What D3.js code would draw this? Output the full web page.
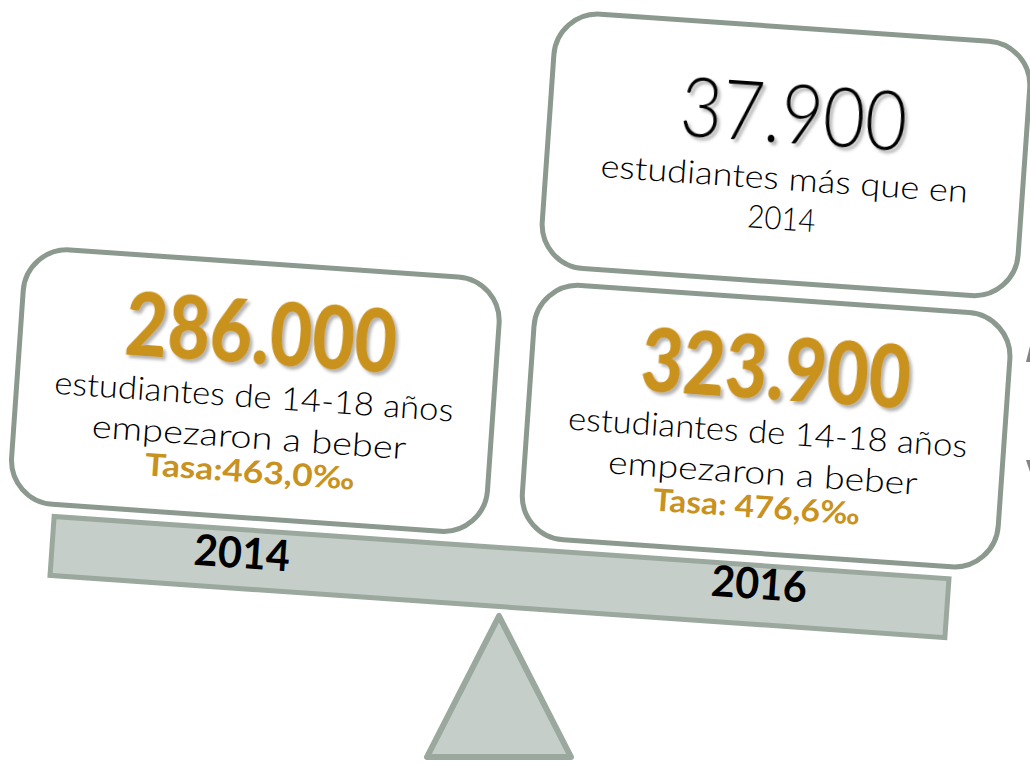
<!DOCTYPE html>
<html>
<head>
<meta charset="utf-8">
<script src="https://cdn.jsdelivr.net/npm/d3@7"></script>
<style>
  body { margin: 0; background: #fff; }
  svg { display: block; }
</style>
</head>
<body>
<svg id="chart" width="1030" height="765"></svg>
<script>
// data
const years = ['2014', '2016'];
const students = [286000, 323900];
const rates = [463.0, 476.6];
const rateLabels = ['Tasa:', 'Tasa: '];
const descLines = ['estudiantes de 14-18 años', 'empezaron a beber'];
const diffLines = ['estudiantes más que en', years[0]];

const es = d3.formatLocale({decimal: ',', thousands: '.', grouping: [3], currency: ['', ' €']});
const fmtInt = es.format(',');
const fmtRate = es.format('.1f');

const gold = '#c9921f';
const frame = '#8b998e';
const beamFill = '#c5cec8';
const beamLine = '#9aa89e';
const font = 'Lato, "Open Sans", sans-serif';

const svg = d3.select('#chart');

svg.append('defs')
    .append('filter')
    .attr('id', 'shadow')
    .attr('x', '-10%').attr('y', '-10%')
    .attr('width', '130%').attr('height', '140%')
    .append('feDropShadow')
    .attr('dx', 3).attr('dy', 3)
    .attr('stdDeviation', 1.6)
    .attr('flood-color', '#444')
    .attr('flood-opacity', 0.4);

// the seesaw tilts with the difference between both years
const diff = students[1] - students[0];
const tilt = d3.scaleLinear().domain([0, 40000]).range([0, 4.2]);
const angle = tilt(diff);

const pivot = {x: 499, y: 577};
const boxW = 477, boxH = 255;

// horizontal place of each year along the beam (beam-local coords)
const xYear = d3.scalePoint().domain(years).range([-256, 256]);

// fulcrum
svg.append('path')
    .attr('d', d3.line()([[499, 616], [427, 757], [571, 757]]) + 'Z')
    .attr('fill', beamFill)
    .attr('stroke', beamLine)
    .attr('stroke-width', 6)
    .attr('stroke-linejoin', 'round');

const seesaw = svg.append('g')
    .attr('transform', `translate(${pivot.x},${pivot.y}) rotate(${angle})`);

// beam
seesaw.append('rect')
    .attr('x', -448).attr('y', -29.5)
    .attr('width', 897).attr('height', 59)
    .attr('fill', beamFill)
    .attr('stroke', beamLine)
    .attr('stroke-width', 5);

seesaw.selectAll('text.year')
    .data(years)
    .enter()
    .append('text')
    .attr('class', 'year')
    .attr('x', d => xYear(d) + (d === years[0] ? -2 : 4))
    .attr('y', (d, i) => i === 0 ? 9 : 4)
    .attr('text-anchor', 'middle')
    .attr('textLength', 96)
    .attr('lengthAdjust', 'spacingAndGlyphs')
    .style('font-family', font)
    .style('font-weight', 'bold')
    .style('font-size', '43px')
    .attr('fill', '#000')
    .text(d => d);

// year boxes resting on the beam
const box = seesaw.selectAll('g.box')
    .data(years)
    .enter()
    .append('g')
    .attr('class', 'box')
    .attr('transform', d => `translate(${xYear(d)},-169)`);

box.append('rect')
    .attr('x', -boxW / 2).attr('y', -boxH / 2)
    .attr('width', boxW).attr('height', boxH)
    .attr('rx', 44).attr('ry', 44)
    .attr('fill', '#fff')
    .attr('stroke', frame)
    .attr('stroke-width', 5);

const numW = [272, 270];
box.append('text')
    .attr('x', (d, i) => i === 0 ? 2 : 6)
    .attr('y', -27)
    .attr('text-anchor', 'middle')
    .attr('textLength', (d, i) => numW[i])
    .attr('lengthAdjust', 'spacingAndGlyphs')
    .attr('filter', 'url(#shadow)')
    .style('font-family', font)
    .style('font-weight', 900)
    .style('font-size', '88px')
    .attr('fill', gold)
    .text((d, i) => fmtInt(students[i]));

const lineW = [[400, 315], [400, 310]];
descLines.forEach((line, j) => {
    box.append('text')
        .attr('x', (d, i) => i === 0 ? (j ? -3 : -1) : (j ? 0 : 2))
        .attr('y', j === 0 ? 17 : 58)
        .attr('text-anchor', 'middle')
        .attr('textLength', (d, i) => lineW[i][j])
        .attr('lengthAdjust', 'spacingAndGlyphs')
        .style('font-family', font)
        .style('font-weight', 300)
        .style('font-size', '32px')
        .attr('fill', '#000')
        .text(line);
});

const rateW = [210, 207];
box.append('text')
    .attr('x', (d, i) => i === 0 ? 0 : -4)
    .attr('y', 92)
    .attr('text-anchor', 'middle')
    .attr('textLength', (d, i) => rateW[i])
    .attr('lengthAdjust', 'spacingAndGlyphs')
    .style('font-family', font)
    .style('font-weight', 'bold')
    .style('font-size', '31px')
    .attr('fill', gold)
    .text((d, i) => rateLabels[i] + fmtRate(rates[i]) + '‰');

// difference box stacked on the heavier side
const diffBox = seesaw.append('g')
    .attr('transform', `translate(${xYear(years[1]) + 1},-441)`);

diffBox.append('rect')
    .attr('x', -boxW / 2).attr('y', -boxH / 2)
    .attr('width', boxW).attr('height', boxH)
    .attr('rx', 44).attr('ry', 44)
    .attr('fill', '#fff')
    .attr('stroke', frame)
    .attr('stroke-width', 5);

diffBox.append('text')
    .attr('x', 5).attr('y', -12)
    .attr('text-anchor', 'middle')
    .attr('textLength', 227)
    .attr('lengthAdjust', 'spacingAndGlyphs')
    .attr('filter', 'url(#shadow)')
    .style('font-family', font)
    .style('font-weight', 300)
    .style('font-size', '82px')
    .attr('fill', '#000')
    .text(fmtInt(diff));

diffBox.selectAll('text.line')
    .data(diffLines)
    .enter()
    .append('text')
    .attr('class', 'line')
    .attr('x', 0)
    .attr('y', (d, i) => i === 0 ? 35 : 75)
    .attr('text-anchor', 'middle')
    .attr('textLength', (d, i) => i === 0 ? 368 : 68)
    .attr('lengthAdjust', 'spacingAndGlyphs')
    .style('font-family', font)
    .style('font-weight', 300)
    .style('font-size', '32px')
    .attr('fill', '#000')
    .text(d => d);

// bits of a shape cut off by the right edge
svg.append('path')
    .attr('d', 'M1030,346L1026,362L1030,362Z')
    .attr('fill', '#7d8880');
svg.append('path')
    .attr('d', 'M1026,460L1030,460L1030,472Z')
    .attr('fill', '#7d8880');
</script>
</body>
</html>
